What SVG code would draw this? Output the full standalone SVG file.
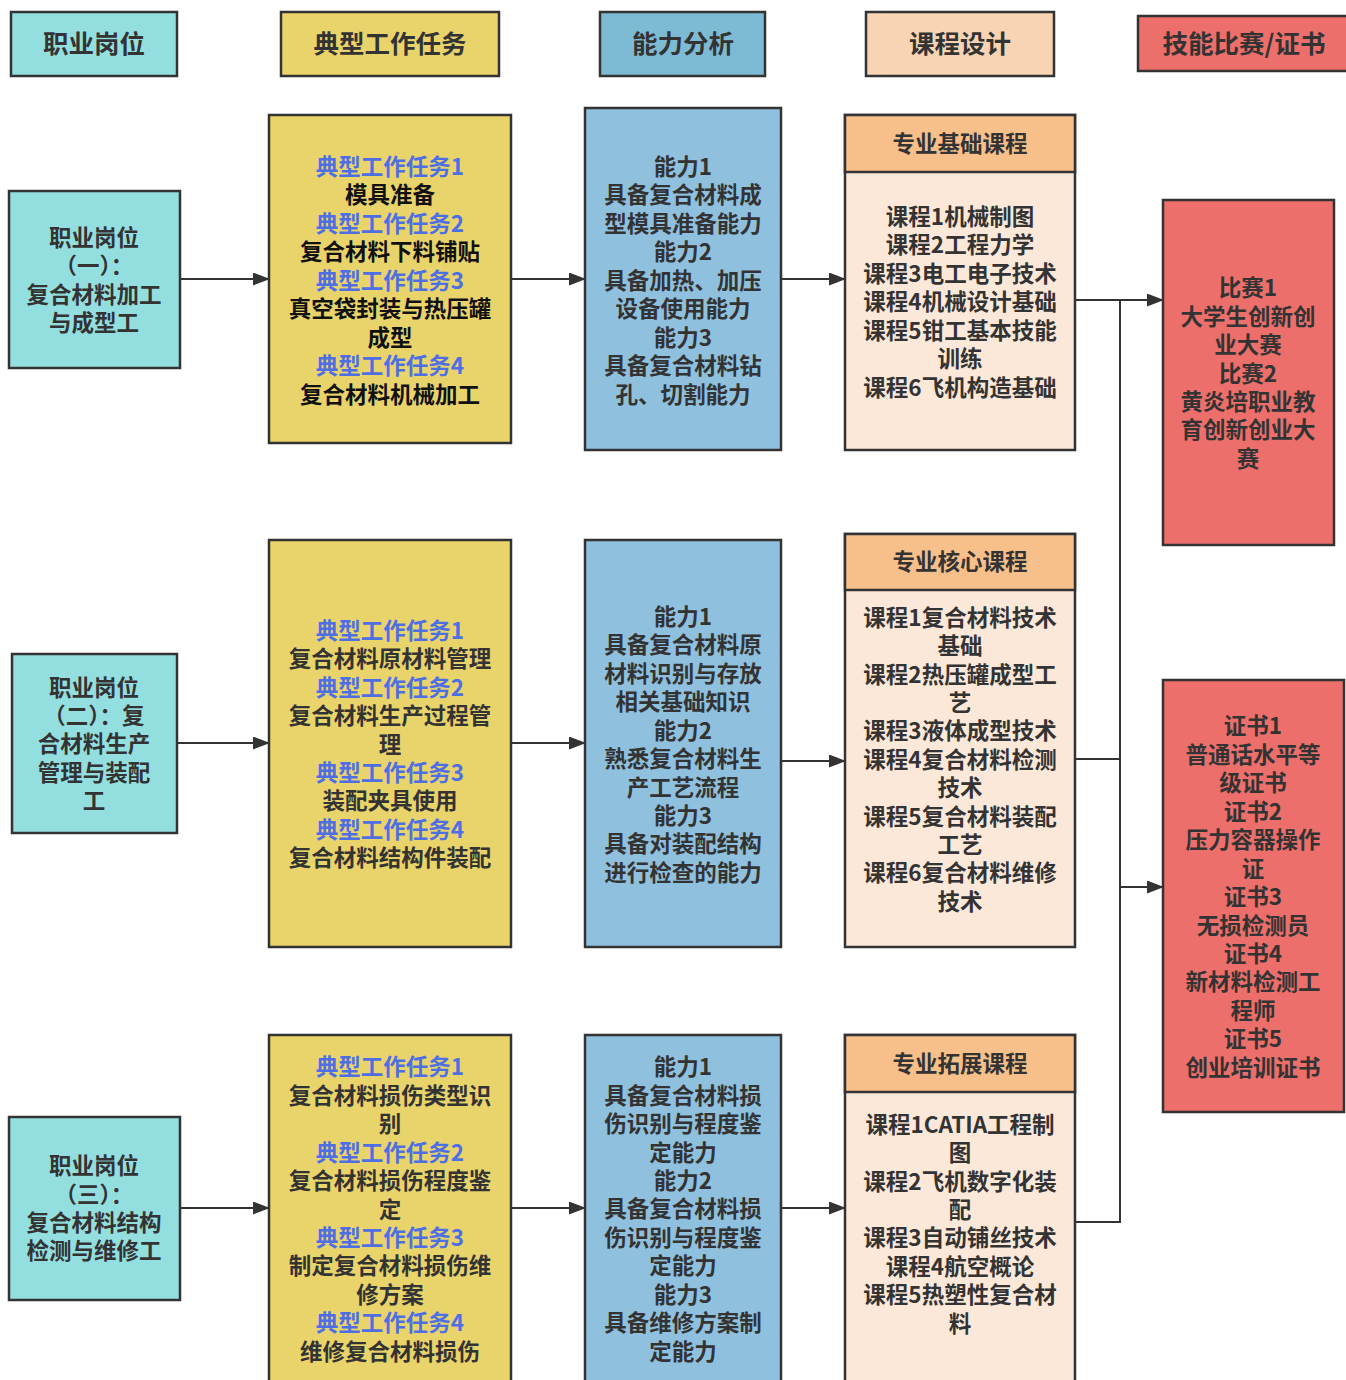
<svg xmlns="http://www.w3.org/2000/svg" width="1346" height="1380" viewBox="0 0 1346 1380">
<defs>
<marker id="arr" markerWidth="17" markerHeight="13" refX="16" refY="6.5" orient="auto" markerUnits="userSpaceOnUse">
<path d="M0,0 L17,6.5 L0,13 Z" fill="#333"/>
</marker>
<style>
text{font-family:"Noto Sans CJK SC","Noto Sans",sans-serif;font-weight:bold;fill:#333;text-anchor:middle;font-size:22.5px}
.h{font-size:25.5px}
.b{fill:#4E6FE3}
.k{fill:#111}
.box{stroke:#333;stroke-width:2.5}
.cy{fill:#93DFE0}
.ye{fill:#E9D46C}
.bl{fill:#8FC0DE}
.bl2{fill:#7DBBD5}
.pe{fill:#FBE8D9}
.ph{fill:#F7BF8A}
.ph2{fill:#F8D4B4}
.rd{fill:#EC6F6B}
.ln{stroke:#333;stroke-width:2;fill:none}
</style>
</defs>
<rect width="1346" height="1380" fill="#fff"/>

<g id="headers">
<g id="h1"><rect class="box cy" x="11" y="12" width="166" height="64"/><text class="h" x="94" y="53">职业岗位</text></g>
<g id="h2"><rect class="box ye" x="281" y="12" width="218" height="64"/><text class="h" x="390" y="53">典型工作任务</text></g>
<g id="h3"><rect class="box bl2" x="600" y="12" width="165" height="64"/><text class="h" x="683" y="53">能力分析</text></g>
<g id="h4"><rect class="box ph2" x="866" y="12" width="188" height="64"/><text class="h" x="960" y="53">课程设计</text></g>
<g id="h5"><rect class="box rd" x="1138" y="16" width="210" height="55"/><text class="h" x="1244" y="53">技能比赛/证书</text></g>
</g>

<g id="connectors">
<line class="ln" x1="180" y1="279" x2="269" y2="279" marker-end="url(#arr)"/>
<line class="ln" x1="511" y1="279" x2="585" y2="279" marker-end="url(#arr)"/>
<line class="ln" x1="781" y1="279" x2="845" y2="279" marker-end="url(#arr)"/>
<line class="ln" x1="177" y1="743" x2="269" y2="743" marker-end="url(#arr)"/>
<line class="ln" x1="511" y1="743" x2="585" y2="743" marker-end="url(#arr)"/>
<line class="ln" x1="781" y1="761" x2="845" y2="761" marker-end="url(#arr)"/>
<line class="ln" x1="180" y1="1208" x2="269" y2="1208" marker-end="url(#arr)"/>
<line class="ln" x1="511" y1="1208" x2="585" y2="1208" marker-end="url(#arr)"/>
<line class="ln" x1="781" y1="1208" x2="845" y2="1208" marker-end="url(#arr)"/>
<polyline class="ln" points="1075,300 1163,300" marker-end="url(#arr)"/>
<polyline class="ln" points="1075,759 1120,759"/>
<polyline class="ln" points="1075,1222 1120,1222 1120,300"/>
<polyline class="ln" points="1120,887 1163,887" marker-end="url(#arr)"/>
</g>

<g id="pos1"><rect class="box cy" x="9" y="191" width="171" height="177"/>
<text x="94"><tspan x="94" y="246">职业岗位</tspan><tspan x="94" y="274">（一）：</tspan><tspan x="94" y="303">复合材料加工</tspan><tspan x="94" y="331">与成型工</tspan></text></g>

<g id="task1"><rect class="box ye" x="269" y="115" width="242" height="328"/>
<text x="390"><tspan class="b" x="390" y="175">典型工作任务1</tspan><tspan class="k" x="390" y="203">模具准备</tspan><tspan class="b" x="390" y="232">典型工作任务2</tspan><tspan class="k" x="390" y="260">复合材料下料铺贴</tspan><tspan class="b" x="390" y="289">典型工作任务3</tspan><tspan class="k" x="390" y="317">真空袋封装与热压罐</tspan><tspan class="k" x="390" y="346">成型</tspan><tspan class="b" x="390" y="374">典型工作任务4</tspan><tspan class="k" x="390" y="403">复合材料机械加工</tspan></text></g>

<g id="ab1"><rect class="box bl" x="585" y="108" width="196" height="342"/>
<text x="683"><tspan x="683" y="175">能力1</tspan><tspan x="683" y="203">具备复合材料成</tspan><tspan x="683" y="232">型模具准备能力</tspan><tspan x="683" y="260">能力2</tspan><tspan x="683" y="289">具备加热、加压</tspan><tspan x="683" y="317">设备使用能力</tspan><tspan x="683" y="346">能力3</tspan><tspan x="683" y="374">具备复合材料钻</tspan><tspan x="683" y="403">孔、切割能力</tspan></text></g>

<g id="course1"><rect class="box pe" x="845" y="115" width="230" height="335"/><rect class="box ph" x="845" y="115" width="230" height="57"/>
<text x="960" y="152">专业基础课程</text>
<text x="960"><tspan x="960" y="225">课程1机械制图</tspan><tspan x="960" y="253">课程2工程力学</tspan><tspan x="960" y="282">课程3电工电子技术</tspan><tspan x="960" y="310">课程4机械设计基础</tspan><tspan x="960" y="339">课程5钳工基本技能</tspan><tspan x="960" y="367">训练</tspan><tspan x="960" y="396">课程6飞机构造基础</tspan></text></g>

<g id="comp"><rect class="box rd" x="1163" y="200" width="171" height="345"/>
<text x="1248"><tspan x="1248" y="296">比赛1</tspan><tspan x="1248" y="325">大学生创新创</tspan><tspan x="1248" y="353">业大赛</tspan><tspan x="1248" y="382">比赛2</tspan><tspan x="1248" y="410">黄炎培职业教</tspan><tspan x="1248" y="438">育创新创业大</tspan><tspan x="1248" y="467">赛</tspan></text></g>

<g id="pos2"><rect class="box cy" x="12" y="654" width="165" height="179"/>
<text x="94"><tspan x="94" y="696">职业岗位</tspan><tspan x="94" y="724">（二）：复</tspan><tspan x="94" y="752">合材料生产</tspan><tspan x="94" y="781">管理与装配</tspan><tspan x="94" y="809">工</tspan></text></g>

<g id="task2"><rect class="box ye" x="269" y="540" width="242" height="407"/>
<text x="390"><tspan class="b" x="390" y="639">典型工作任务1</tspan><tspan x="390" y="667">复合材料原材料管理</tspan><tspan class="b" x="390" y="696">典型工作任务2</tspan><tspan x="390" y="724">复合材料生产过程管</tspan><tspan x="390" y="753">理</tspan><tspan class="b" x="390" y="781">典型工作任务3</tspan><tspan x="390" y="809">装配夹具使用</tspan><tspan class="b" x="390" y="838">典型工作任务4</tspan><tspan x="390" y="866">复合材料结构件装配</tspan></text></g>

<g id="ab2"><rect class="box bl" x="585" y="540" width="196" height="407"/>
<text x="683"><tspan x="683" y="625">能力1</tspan><tspan x="683" y="653">具备复合材料原</tspan><tspan x="683" y="682">材料识别与存放</tspan><tspan x="683" y="710">相关基础知识</tspan><tspan x="683" y="739">能力2</tspan><tspan x="683" y="767">熟悉复合材料生</tspan><tspan x="683" y="796">产工艺流程</tspan><tspan x="683" y="824">能力3</tspan><tspan x="683" y="852">具备对装配结构</tspan><tspan x="683" y="881">进行检查的能力</tspan></text></g>

<g id="course2"><rect class="box pe" x="845" y="534" width="230" height="413"/><rect class="box ph" x="845" y="534" width="230" height="56"/>
<text x="960" y="570">专业核心课程</text>
<text x="960"><tspan x="960" y="626">课程1复合材料技术</tspan><tspan x="960" y="654">基础</tspan><tspan x="960" y="683">课程2热压罐成型工</tspan><tspan x="960" y="711">艺</tspan><tspan x="960" y="739">课程3液体成型技术</tspan><tspan x="960" y="768">课程4复合材料检测</tspan><tspan x="960" y="796">技术</tspan><tspan x="960" y="825">课程5复合材料装配</tspan><tspan x="960" y="853">工艺</tspan><tspan x="960" y="881">课程6复合材料维修</tspan><tspan x="960" y="910">技术</tspan></text></g>

<g id="cert"><rect class="box rd" x="1163" y="680" width="181" height="432"/>
<text x="1253"><tspan x="1253" y="734">证书1</tspan><tspan x="1253" y="763">普通话水平等</tspan><tspan x="1253" y="791">级证书</tspan><tspan x="1253" y="820">证书2</tspan><tspan x="1253" y="848">压力容器操作</tspan><tspan x="1253" y="877">证</tspan><tspan x="1253" y="905">证书3</tspan><tspan x="1253" y="934">无损检测员</tspan><tspan x="1253" y="962">证书4</tspan><tspan x="1253" y="990">新材料检测工</tspan><tspan x="1253" y="1019">程师</tspan><tspan x="1253" y="1047">证书5</tspan><tspan x="1253" y="1076">创业培训证书</tspan></text></g>

<g id="pos3"><rect class="box cy" x="9" y="1117" width="171" height="183"/>
<text x="94"><tspan x="94" y="1174">职业岗位</tspan><tspan x="94" y="1203">（三）：</tspan><tspan x="94" y="1231">复合材料结构</tspan><tspan x="94" y="1259">检测与维修工</tspan></text></g>

<g id="task3"><rect class="box ye" x="269" y="1035" width="242" height="360"/>
<text x="390"><tspan class="b" x="390" y="1075">典型工作任务1</tspan><tspan x="390" y="1104">复合材料损伤类型识</tspan><tspan x="390" y="1132">别</tspan><tspan class="b" x="390" y="1161">典型工作任务2</tspan><tspan x="390" y="1189">复合材料损伤程度鉴</tspan><tspan x="390" y="1218">定</tspan><tspan class="b" x="390" y="1246">典型工作任务3</tspan><tspan x="390" y="1274">制定复合材料损伤维</tspan><tspan x="390" y="1303">修方案</tspan><tspan class="b" x="390" y="1331">典型工作任务4</tspan><tspan x="390" y="1360">维修复合材料损伤</tspan></text></g>

<g id="ab3"><rect class="box bl" x="585" y="1035" width="196" height="360"/>
<text x="683"><tspan x="683" y="1075">能力1</tspan><tspan x="683" y="1104">具备复合材料损</tspan><tspan x="683" y="1132">伤识别与程度鉴</tspan><tspan x="683" y="1161">定能力</tspan><tspan x="683" y="1189">能力2</tspan><tspan x="683" y="1217">具备复合材料损</tspan><tspan x="683" y="1246">伤识别与程度鉴</tspan><tspan x="683" y="1274">定能力</tspan><tspan x="683" y="1303">能力3</tspan><tspan x="683" y="1331">具备维修方案制</tspan><tspan x="683" y="1360">定能力</tspan></text></g>

<g id="course3"><rect class="box pe" x="845" y="1035" width="230" height="360"/><rect class="box ph" x="845" y="1035" width="230" height="57"/>
<text x="960" y="1072">专业拓展课程</text>
<text x="960"><tspan x="960" y="1133">课程1CATIA工程制</tspan><tspan x="960" y="1161">图</tspan><tspan x="960" y="1190">课程2飞机数字化装</tspan><tspan x="960" y="1218">配</tspan><tspan x="960" y="1246">课程3自动铺丝技术</tspan><tspan x="960" y="1275">课程4航空概论</tspan><tspan x="960" y="1303">课程5热塑性复合材</tspan><tspan x="960" y="1332">料</tspan></text></g>
</svg>
